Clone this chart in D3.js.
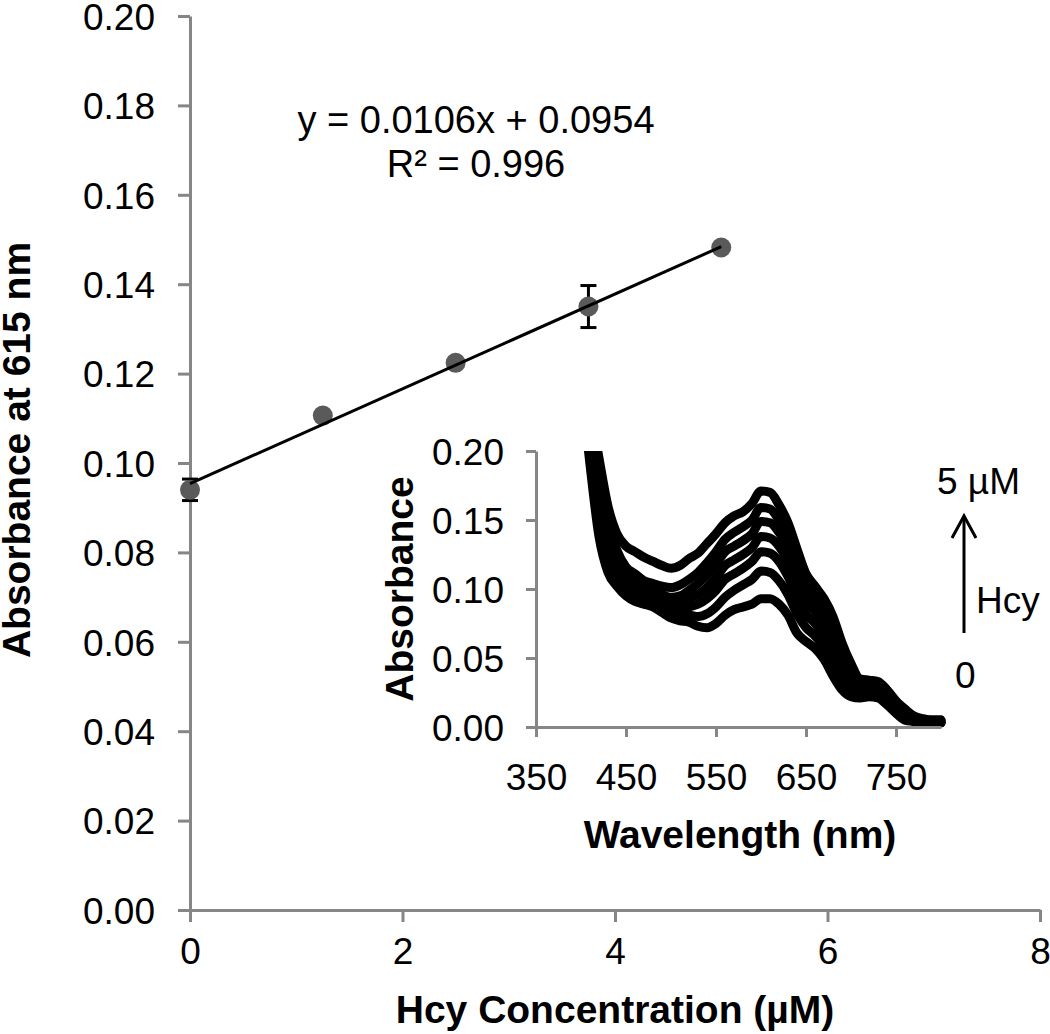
<!DOCTYPE html>
<html>
<head>
<meta charset="utf-8">
<script src="https://cdn.jsdelivr.net/npm/d3@7"></script>
<style>
  html, body { margin: 0; padding: 0; background: #fff; }
  svg { display: block; }
  text { font-family: "Liberation Sans", Arial, sans-serif; fill: #000; }
</style>
</head>
<body>
<svg id="chart" width="1050" height="1034"></svg>
<script>
// ---------- Main chart data ----------
const concentrations = [0, 1.25, 2.5, 3.75, 5];
const absorbance615 = [0.0940, 0.1106, 0.1224, 0.1350, 0.1482];
const errors615 = [0.0024, 0.0008, 0.0006, 0.0047, 0.0005];
const fitSlope = 0.0106;
const fitIntercept = 0.0954;
const fitRange = [0, 5];
const mainXTicks = [0, 2, 4, 6, 8];
const mainYTicks = [0, 0.02, 0.04, 0.06, 0.08, 0.10, 0.12, 0.14, 0.16, 0.18, 0.20];

// ---------- Inset spectra data ----------
const wavelengths = [400,410,420,430,440,450,460,470,480,490,500,510,520,530,540,550,560,570,580,590,600,
                     610,620,630,640,650,660,670,680,690,700,710,720,730,740,750,760,770,780,790,800];
const spec0 = [0.25,0.19,0.138,0.112,0.102,0.095,0.091,0.089,0.087,0.083,0.079,0.077,0.076,0.073,0.072,0.075,0.081,0.085,0.087,0.089,0.093,
               0.093,0.089,0.081,0.068,0.062,0.057,0.049,0.037,0.027,0.022,0.021,0.022,0.021,0.016,0.010,0.005,0.004,0.003,0.003,0.003];
const spec1 = [0.26,0.195,0.145,0.116,0.105,0.099,0.095,0.092,0.089,0.085,0.083,0.081,0.081,0.080,0.082,0.087,0.094,0.099,0.103,0.107,0.113,
               0.112,0.106,0.096,0.082,0.072,0.066,0.058,0.045,0.033,0.026,0.023,0.023,0.022,0.017,0.011,0.006,0.004,0.003,0.003,0.003];
const spec2 = [0.27,0.200,0.150,0.121,0.109,0.103,0.098,0.094,0.091,0.088,0.086,0.085,0.087,0.089,0.093,0.099,0.107,0.111,0.115,0.120,0.127,
               0.126,0.120,0.109,0.094,0.082,0.075,0.066,0.053,0.039,0.030,0.025,0.025,0.024,0.018,0.012,0.007,0.005,0.004,0.003,0.003];
const spec3 = [0.28,0.205,0.160,0.127,0.114,0.107,0.102,0.098,0.095,0.092,0.089,0.090,0.093,0.096,0.101,0.108,0.117,0.121,0.125,0.130,0.138,
               0.137,0.131,0.120,0.104,0.091,0.084,0.075,0.062,0.045,0.034,0.027,0.027,0.026,0.020,0.013,0.008,0.005,0.004,0.004,0.004];
const spec4 = [0.28,0.215,0.170,0.135,0.120,0.111,0.106,0.101,0.099,0.096,0.094,0.095,0.099,0.104,0.110,0.118,0.127,0.131,0.135,0.140,0.149,
               0.148,0.141,0.130,0.112,0.098,0.091,0.082,0.069,0.051,0.038,0.030,0.029,0.028,0.022,0.015,0.009,0.006,0.005,0.004,0.004];
const spec5 = [0.29,0.225,0.185,0.150,0.128,0.116,0.111,0.106,0.104,0.102,0.101,0.103,0.107,0.112,0.119,0.127,0.136,0.141,0.145,0.150,0.159,
               0.158,0.150,0.139,0.120,0.104,0.097,0.087,0.074,0.055,0.042,0.033,0.032,0.031,0.025,0.017,0.011,0.007,0.005,0.005,0.005];
const spec6 = [0.30,0.235,0.195,0.160,0.140,0.131,0.127,0.123,0.120,0.117,0.115,0.117,0.122,0.126,0.133,0.140,0.148,0.153,0.156,0.162,0.171,
               0.170,0.161,0.148,0.129,0.111,0.102,0.093,0.080,0.061,0.046,0.035,0.034,0.033,0.027,0.019,0.013,0.008,0.006,0.005,0.005];
const spectra = [spec0, spec1, spec2, spec3, spec4, spec5, spec6];
const insetXTicks = [350, 450, 550, 650, 750];
const insetYTicks = [0, 0.05, 0.10, 0.15, 0.20];

// ---------- Drawing ----------
const svg = d3.select("#chart");
const AXIS = "#868686";

// Main scales
const x = d3.scaleLinear().domain([0, 8]).range([190, 1040]);
const y = d3.scaleLinear().domain([0, 0.2]).range([910, 16]);

function styleAxis(g, fontSize) {
  g.select(".domain").attr("stroke", AXIS).attr("stroke-width", 3);
  g.selectAll(".tick line").attr("stroke", AXIS).attr("stroke-width", 3);
  g.selectAll(".tick text").attr("fill", "#000")
    .style("font-family", '"Liberation Sans", Arial, sans-serif')
    .style("font-size", fontSize + "px");
}

// Main y axis
const gy = svg.append("g").attr("transform", "translate(190,0)")
  .call(d3.axisLeft(y).tickValues(mainYTicks).tickFormat(d3.format(".2f"))
        .tickSize(12).tickSizeOuter(0).tickPadding(23));
styleAxis(gy, 37);
gy.selectAll(".tick text").attr("dy", "0.36em");

// Main x axis
const gx = svg.append("g").attr("transform", "translate(0,910)")
  .call(d3.axisBottom(x).tickValues(mainXTicks).tickFormat(d3.format("d"))
        .tickSize(12).tickSizeOuter(0));
styleAxis(gx, 37);
gx.selectAll(".tick text").attr("y", 54).attr("dy", 0);

// Axis titles
svg.append("text").attr("x", 615).attr("y", 1023).attr("text-anchor", "middle")
  .style("font-size", "39px").style("font-weight", "bold").text("Hcy Concentration (µM)");
svg.append("text").attr("transform", "translate(30,450) rotate(-90)").attr("text-anchor", "middle")
  .style("font-size", "39px").style("font-weight", "bold").text("Absorbance at 615 nm");

// Error bars
const pts = concentrations.map((c, i) => ({ c, a: absorbance615[i], e: errors615[i] }));
const eb = svg.append("g").attr("stroke", "#000").attr("stroke-width", 3);
pts.forEach(p => {
  eb.append("line").attr("x1", x(p.c)).attr("x2", x(p.c)).attr("y1", y(p.a - p.e)).attr("y2", y(p.a + p.e));
  eb.append("line").attr("x1", x(p.c) - 8).attr("x2", x(p.c) + 8).attr("y1", y(p.a - p.e)).attr("y2", y(p.a - p.e));
  eb.append("line").attr("x1", x(p.c) - 8).attr("x2", x(p.c) + 8).attr("y1", y(p.a + p.e)).attr("y2", y(p.a + p.e));
});

// Markers
svg.append("g").selectAll("circle").data(pts).join("circle")
  .attr("cx", d => x(d.c)).attr("cy", d => y(d.a)).attr("r", 10).attr("fill", "#5a5a5a");

// Trend line (drawn over markers)
svg.append("line")
  .attr("x1", x(fitRange[0])).attr("y1", y(fitIntercept + fitSlope * fitRange[0]))
  .attr("x2", x(fitRange[1])).attr("y2", y(fitIntercept + fitSlope * fitRange[1]))
  .attr("stroke", "#000").attr("stroke-width", 3);

// Equation
svg.append("text").attr("x", 476).attr("y", 133).attr("text-anchor", "middle")
  .style("font-size", "38px").text("y = 0.0106x + 0.0954");
svg.append("text").attr("x", 476).attr("y", 177).attr("text-anchor", "middle")
  .style("font-size", "38px").text("R² = 0.996");

// ---------- Inset ----------
const ix = d3.scaleLinear().domain([350, 800]).range([536, 941]);
const iy = d3.scaleLinear().domain([0, 0.2]).range([727, 451]);

svg.append("clipPath").attr("id", "insetClip").append("rect")
  .attr("x", 536).attr("y", 451).attr("width", 420).attr("height", 290);

const line = d3.line().x((d, i) => ix(wavelengths[i])).y(d => iy(d)).curve(d3.curveMonotoneX);
svg.append("g").attr("clip-path", "url(#insetClip)")
  .selectAll("path").data(spectra).join("path")
  .attr("d", d => line(d)).attr("fill", "none").attr("stroke", "#000")
  .attr("stroke-width", 9).attr("stroke-linejoin", "round").attr("stroke-linecap", "round");

const igy = svg.append("g").attr("transform", "translate(536,0)")
  .call(d3.axisLeft(iy).tickValues(insetYTicks).tickFormat(d3.format(".2f"))
        .tickSize(10).tickSizeOuter(0).tickPadding(22));
styleAxis(igy, 37);
igy.selectAll(".tick text").attr("dy", "0.36em");

const igx = svg.append("g").attr("transform", "translate(0,727)")
  .call(d3.axisBottom(ix).tickValues(insetXTicks).tickFormat(d3.format("d"))
        .tickSize(10).tickSizeOuter(0));
styleAxis(igx, 37);
igx.selectAll(".tick text").attr("y", 63).attr("dy", 0);

svg.append("text").attr("x", 740).attr("y", 848).attr("text-anchor", "middle")
  .style("font-size", "39px").style("font-weight", "bold").text("Wavelength (nm)");
svg.append("text").attr("transform", "translate(413,589) rotate(-90)").attr("text-anchor", "middle")
  .style("font-size", "39px").style("font-weight", "bold").text("Absorbance");

// Legend arrow
const arrow = svg.append("g").attr("stroke", "#000").attr("stroke-width", 3).attr("fill", "none");
arrow.append("line").attr("x1", 964).attr("y1", 633).attr("x2", 964).attr("y2", 516);
arrow.append("path").attr("d", "M952,538 L964,516 L976,538");
svg.append("text").attr("x", 937).attr("y", 494).style("font-size", "37px").text("5 µM");
svg.append("text").attr("x", 976).attr("y", 613).style("font-size", "37px").text("Hcy");
svg.append("text").attr("x", 955).attr("y", 688).style("font-size", "37px").text("0");
</script>
</body>
</html>
